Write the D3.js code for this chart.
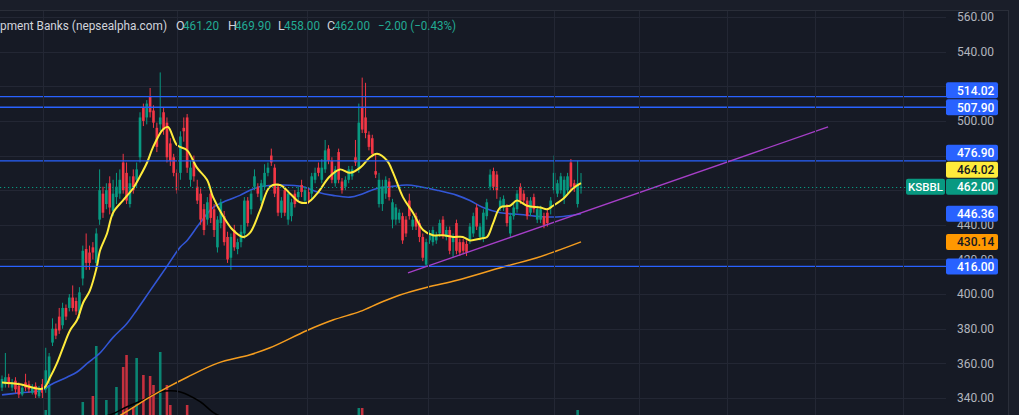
<!DOCTYPE html>
<html><head><meta charset="utf-8">
<script src="https://cdn.jsdelivr.net/npm/d3@7"></script>
<style>html,body{margin:0;padding:0;background:#161a25;overflow:hidden}svg{display:block}</style>
</head><body><svg id="c" width="1019" height="415"></svg>
<script>
// ---- data ----
const opens = [346,348,352,346,350,347,342,349,348,343,347,341,348,345,350,372,380,387,382,392,392,398,396,389,409,426,424,427,418,443,458,452,464,448,456,458,476,470,452,468,466,479,508,502,514,506,496,498,505,499,487,479,470,470,496,502,466,476,462,458,449,443,458,449,427,441,445,433,421,437,426,430,435,454,449,462,462,454,462,470,480,473,462,447,460,443,445,458,456,463,454,459,458,466,473,466,472,484,477,464,482,465,462,466,468,479,472,508,502,492,490,471,452,452,458,465,443,443,443,445,443,454,439,445,441,433,417,431,430,431,435,443,433,437,430,441,430,430,429,431,435,450,433,432,445,462,471,469,450,450,450,435,445,449,462,458,454,447,456,443,443,445,447,450,460,458,460,456,460,476,464,452,461.2];
const highs = [353,366,354,351,352,349,348,354,350,348,349,347,351,369,366,386,383,392,395,394,400,405,398,404,428,435,428,430,438,472,462,464,468,466,470,472,481,476,468,472,476,505,510,512,519,509,499,528,508,502,490,481,472,494,502,504,477,480,466,461,452,456,460,452,445,455,448,436,435,440,432,440,456,456,460,472,464,466,475,476,484,475,464,456,462,460,455,460,462,466,462,461,470,473,476,478,489,486,479,474,484,467,468,474,474,489,510,525,522,494,492,481,470,466,468,467,455,452,449,447,445,458,445,447,443,435,432,437,439,436,443,445,439,439,435,443,432,432,431,441,447,452,441,449,455,472,473,471,456,457,452,447,452,460,464,460,456,456,458,451,451,447,449,456,480,466,470,468,470,478,466,477,469.9];
const lows = [344,346,346,344,343,340,341,344,343,342,340,340,340,343,348,370,374,377,380,385,390,390,388,386,405,414,414,420,415,440,444,449,446,445,452,455,458,452,450,458,462,476,497,498,502,496,482,494,492,476,474,468,458,466,488,470,462,465,452,440,434,440,441,433,424,438,428,418,414,425,423,427,432,439,446,460,456,452,460,468,474,456,445,444,445,440,442,450,454,456,452,452,455,464,468,464,470,475,464,462,464,458,460,464,466,474,470,493,490,483,479,467,450,448,455,454,438,440,441,429,433,443,437,437,430,419,416,429,428,429,433,432,431,423,421,423,422,423,422,429,433,437,431,430,443,460,460,455,448,448,439,433,443,447,452,452,443,445,447,441,441,438,439,446,458,456,458,452,458,460,459,450,458];
const closes = [351,352,348,349,345,342,346,346,345,346,342,345,343,356,364,380,376,379,392,387,398,392,390,401,425,418,418,424,435,460,447,460,450,458,462,466,460,454,464,460,472,502,500,510,505,499,485,502,495,479,477,470,460,491,494,473,473,468,454,443,437,453,444,437,443,453,430,420,433,427,430,436,454,441,458,468,458,464,470,473,476,458,447,454,447,458,453,452,459,459,460,454,468,470,470,473,483,477,466,472,466,460,466,472,472,476,499,495,493,485,481,469,466,462,466,456,453,450,447,431,435,445,443,439,433,421,430,435,437,434,441,434,437,425,433,425,424,425,424,439,445,439,439,447,453,469,462,460,454,455,441,445,450,458,454,454,445,454,449,449,449,440,441,454,470,464,468,466,468,462,461,464,462];
const volumes = [30,25,35,28,40,32,22,38,26,30,42,28,35,60,110,45,30,40,35,25,30,38,28,42,76,45,40,88,188,48,42,80,45,38,106,48,146,170,44,66,164,48,130,46,128,110,42,176,45,110,70,40,44,48,40,70,38,30,34,28,36,26,32,40,30,28,35,42,30,26,33,38,28,30,36,25,30,34,28,38,32,26,30,35,28,24,30,33,27,25,29,36,30,26,31,28,40,34,30,26,32,28,25,30,34,38,64,64,40,34,30,28,32,26,30,34,28,25,30,32,27,35,29,24,30,36,28,26,30,25,31,27,33,29,24,30,28,26,32,27,30,35,29,26,31,38,33,28,30,26,32,29,25,30,27,33,28,26,30,24,29,31,27,30,36,32,28,30,34,38,30,60,30];
// moving averages (bar index, value)
const maFastBars = [0,5.3,12.2,14.3,16.3,18.1,20.2,22.3,24.1,26.1,28.2,29.1,31.2,33,35.9,38.9,41,43.1,44.9,47.8,49.3,52,55,57.9,60.9,62.7,65.7,68.6,71.6,73.7,76.6,79.6,82.6,85.6,88.5,90.9,93.6,97.4,100.4,103.4,106.4,109.3,111.4,114.4,116.2,119.1,122.1,125.1,128,131,134,136.9,139,142,144.1,145.9,148,150.9,153,156,159.9,161.9,163.7,166.7,169.6,172];
const maFastValues = [349,348,345.5,352,360,369,379,385,395,402,416,425,435,447,454,461,468,476,485,495,496.5,486,483,473,466,456,445,437,433,435.5,448,462,463,458,453,453,458,468,472,470,473,479,481,477,470,456,447,437,434,434,433,433,431,432,433,441,450,451,454,451,450,449,451,455,461,464.02];
const maMidBars = [0,5.3,12.2,14.3,19.3,22.3,25.3,29.1,33,37.1,40.1,44,49,52.9,55,58.8,62.7,66.8,70.7,73.7,76.6,83.5,89.4,93.6,98.3,103.4,107.2,111.4,115.3,120.3,124.2,129.2,135.2,139,142.9,148,153.9,158.3,161.9,166.7,172];
const maMidValues = [341.8,343,344.6,347.5,352,355,360,366,375,383,391,402,416,427,431,441,450,454,457,460,462,463,462,459,457,456,458,461,462,463,462,460,457,454,450,447,446,445,444.5,444.8,446.36];
const maSlowBars = [29.1,35.1,44,49,55,63.9,73.7,79.6,90.6,98.3,106.4,112.3,118.2,126.3,135.2,148.8,158.9,164.9,172];
const maSlowValues = [325,330,340.6,346,352,360,365,369,379,385,390,395,399.5,404,408,415.6,421,425,430.14];
const volMaBars = [0,15,25,32,37,42,47,53,59,64,75,95,120,145,172];
const volMaValues = [30,32,42,50,66,80,96,96,76,50,38,30,32,28,26];
const levelValues = [514.02, 507.90, 476.90, 416.00];
const trendBars = [120.6, 245.4];
const trendValues = [412.2, 496.5];
const gridBars = [12.2, 52, 90.6, 126.6, 164, 189.2, 215.4, 241.5, 267.7];
const priceTicks = [340,360,380,400,420,440,460,480,500,520,540,560];
const lastPrice = 462.00;
const symbol = "KSBBL";
const legendTitle = "pment Banks (nepsealpha.com)";
const legendLabels = ["O","H","L","C"];
const legendValues = ["461.20","469.90","458.00","462.00"];
const legendChange = "\u22122.00 (\u22120.43%)";

// ---- drawing ----
const svg = d3.select("#c");
const W = 1019, H = 415, plotR = 946, paneTop = 10, paneR = 1008;
const x = d3.scaleLinear().domain([0, 172]).range([2, 581]);
const y = d3.scaleLinear().domain([340, 560]).range([398, 17]);
const vy = d3.scaleLinear().domain([0, 200]).range([440, 340]);
const UP = "#089981", DOWN = "#f23645", GRID = "#232734", FONT = "Roboto, 'Noto Sans', sans-serif";

svg.append("rect").attr("width", W).attr("height", H).attr("fill", "#161a25");
svg.append("rect").attr("x", paneR).attr("width", W - paneR).attr("height", H).attr("fill", "#1a1e29");
svg.append("rect").attr("width", W).attr("height", paneTop).attr("fill", "#1a1e29");
svg.append("line").attr("x1", 0).attr("x2", paneR).attr("y1", paneTop + .5).attr("y2", paneTop + .5).attr("stroke", "#2a2e39");
svg.append("line").attr("x1", paneR + .5).attr("x2", paneR + .5).attr("y1", paneTop).attr("y2", H).attr("stroke", "#2a2e39");

svg.append("clipPath").attr("id", "plot").append("rect").attr("x", 0).attr("y", paneTop + 1).attr("width", plotR).attr("height", H - paneTop);
const g = svg.append("g").attr("clip-path", "url(#plot)");

// grid
g.append("g").selectAll("line").data(priceTicks).join("line")
  .attr("x1", 0).attr("x2", plotR).attr("y1", d => Math.round(y(d)) + .5).attr("y2", d => Math.round(y(d)) + .5)
  .attr("stroke", GRID);
svg.append("g").selectAll("line").data(gridBars).join("line")
  .attr("x1", d => Math.round(x(d)) + .5).attr("x2", d => Math.round(x(d)) + .5).attr("y1", paneTop + 1).attr("y2", H)
  .attr("stroke", GRID);

const idx = d3.range(opens.length);
const isUp = i => closes[i] >= opens[i];
const step = x(1) - x(0);

// volume
g.append("g").selectAll("rect").data(idx).join("rect")
  .attr("x", i => x(i) - step * 0.38).attr("width", step * 0.76)
  .attr("y", i => vy(volumes[i])).attr("height", i => vy(0) - vy(volumes[i]))
  .attr("fill", i => isUp(i) ? "rgba(8,153,129,0.85)" : "rgba(242,54,69,0.8)");
const lineGen = d3.line().curve(d3.curveCatmullRom.alpha(0.5));
g.append("path").attr("d", lineGen(volMaBars.map((b, k) => [x(b), vy(volMaValues[k])])))
  .attr("fill", "none").attr("stroke", "#000").attr("stroke-width", 1.5);

// slow & mid MAs
g.append("path").attr("d", lineGen(maSlowBars.map((b, k) => [x(b), y(maSlowValues[k])])))
  .attr("fill", "none").attr("stroke", "#f59d1f").attr("stroke-width", 1.5);
g.append("path").attr("d", lineGen(maMidBars.map((b, k) => [x(b), y(maMidValues[k])])))
  .attr("fill", "none").attr("stroke", "#3256d6").attr("stroke-width", 1.6);

// candles
const cg = g.append("g");
cg.selectAll("line").data(idx).join("line")
  .attr("x1", i => x(i)).attr("x2", i => x(i)).attr("y1", i => y(highs[i])).attr("y2", i => y(lows[i]))
  .attr("stroke", i => isUp(i) ? UP : DOWN).attr("stroke-width", 1);
cg.selectAll("rect").data(idx).join("rect")
  .attr("x", i => x(i) - step * 0.39).attr("width", step * 0.78)
  .attr("y", i => y(Math.max(opens[i], closes[i])))
  .attr("height", i => Math.max(1, Math.abs(y(opens[i]) - y(closes[i]))))
  .attr("fill", i => isUp(i) ? UP : DOWN);

// fast MA
g.append("path").attr("d", lineGen(maFastBars.map((b, k) => [x(b), y(maFastValues[k])])))
  .attr("fill", "none").attr("stroke", "#ffeb3b").attr("stroke-width", 2);

// levels
g.append("g").selectAll("line").data(levelValues).join("line")
  .attr("x1", 0).attr("x2", plotR).attr("y1", d => y(d)).attr("y2", d => y(d))
  .attr("stroke", "#2962ff").attr("stroke-width", 1.4);
// trend line
g.append("line").attr("x1", x(trendBars[0])).attr("y1", y(trendValues[0]))
  .attr("x2", x(trendBars[1])).attr("y2", y(trendValues[1]))
  .attr("stroke", "#a63fc8").attr("stroke-width", 1.3);
// last price dotted line
svg.append("line").attr("x1", 0).attr("x2", 906).attr("y1", Math.round(y(lastPrice)) + .5).attr("y2", Math.round(y(lastPrice)) + .5)
  .attr("stroke", UP).attr("stroke-dasharray", "1.2,2.8").attr("stroke-width", 1.2);

// price labels with stacking
const labels = [
  {v: levelValues[3], bg: "#2962ff", fg: "#fff"},
  {v: maSlowValues[maSlowValues.length - 1], bg: "#ff9800", fg: "#131722"},
  {v: maMidValues[maMidValues.length - 1], bg: "#2962ff", fg: "#fff"},
  {v: lastPrice, bg: UP, fg: "#fff", sym: true},
  {v: maFastValues[maFastValues.length - 1], bg: "#ffeb3b", fg: "#131722"},
  {v: levelValues[2], bg: "#2962ff", fg: "#fff"},
  {v: levelValues[1], bg: "#2962ff", fg: "#fff"},
  {v: levelValues[0], bg: "#2962ff", fg: "#fff"}
];
let prev = Infinity;
labels.forEach(l => { l.cy = Math.min(y(l.v), prev - 17); prev = l.cy; });

// price axis tick labels (those hidden under a price label are skipped)
const visibleTicks = priceTicks.filter(t => labels.every(l => Math.abs(l.cy - y(t)) > 5));
svg.append("g").selectAll("text").data(visibleTicks).join("text")
  .attr("x", 957).attr("y", d => y(d)).attr("dy", "0.35em")
  .attr("fill", "#b2b5be").attr("font-family", FONT).attr("font-size", 12)
  .text(d => d.toFixed(2));

const lg = svg.append("g");
labels.forEach(l => {
  lg.append("rect").attr("x", 946).attr("y", l.cy - 8).attr("width", 52).attr("height", 16).attr("rx", 2).attr("fill", l.bg);
  lg.append("text").attr("x", 957).attr("y", l.cy).attr("dy", "0.36em").attr("fill", l.fg)
    .attr("font-family", FONT).attr("font-size", 12).attr("font-weight", 500).text(l.v.toFixed(2));
  if (l.sym) {
    lg.append("rect").attr("x", 906).attr("y", l.cy - 8).attr("width", 39).attr("height", 16).attr("rx", 2).attr("fill", l.bg);
    lg.append("text").attr("x", 925.5).attr("y", l.cy).attr("dy", "0.36em").attr("text-anchor", "middle").attr("fill", "#fff")
      .attr("font-family", FONT).attr("font-size", 11.5).attr("font-weight", 500).text(symbol);
  }
});

// legend
const leg = svg.append("g").attr("font-family", FONT).attr("font-size", 12.5);
leg.append("text").attr("x", 0).attr("y", 30).attr("fill", "#d1d4dc")
  .attr("textLength", 167).attr("lengthAdjust", "spacingAndGlyphs").text(legendTitle);
const labX = [176, 228, 278, 327];
const valX = [183, 235, 284, 334];
legendLabels.forEach((t, k) => {
  leg.append("text").attr("x", labX[k]).attr("y", 30).attr("fill", "#d1d4dc").text(t);
  leg.append("text").attr("x", valX[k]).attr("y", 30).attr("fill", "#22ab94")
    .attr("textLength", 36).attr("lengthAdjust", "spacingAndGlyphs").text(legendValues[k]);
});
leg.append("text").attr("x", 378).attr("y", 30).attr("fill", "#22ab94")
  .attr("textLength", 78).attr("lengthAdjust", "spacingAndGlyphs").text(legendChange);
</script>
</body></html>
